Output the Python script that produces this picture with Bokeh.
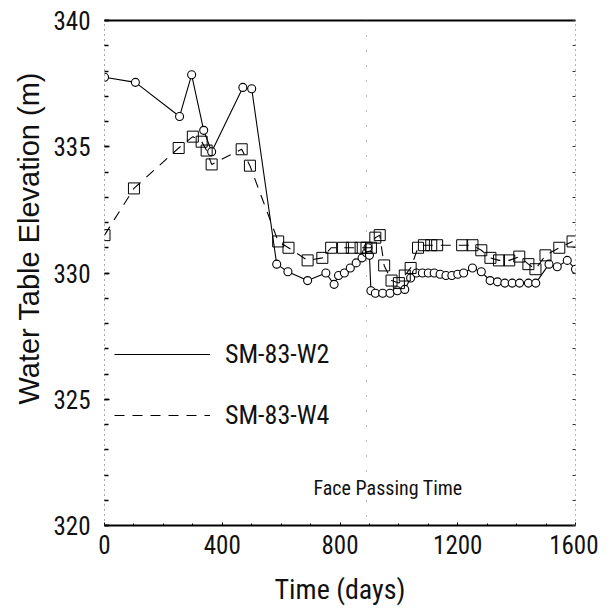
from bokeh.plotting import figure
from bokeh.models import Legend, LegendItem, Label, Span, LinearAxis, FixedTicker, Range1d, Title
from bokeh.embed import file_html
from bokeh.resources import INLINE

# --- data -----------------------------------------------------------------
w2_days = [0, 105, 255, 296, 337, 364, 470, 500, 585, 623, 690, 752, 780, 795,
           815, 835, 855, 875, 890, 895, 900, 905, 920, 945, 970, 995, 1020,
           1040, 1060, 1080, 1100, 1120, 1140, 1160, 1180, 1200, 1220, 1250,
           1280, 1310, 1335, 1360, 1385, 1410, 1440, 1465, 1510, 1538, 1572, 1600]
w2_elev = [337.75, 337.55, 336.2, 337.85, 335.65, 334.8, 337.35, 337.3, 330.35,
           330.05, 329.7, 330.0, 329.55, 329.9, 330.0, 330.2, 330.4, 330.6, 330.8,
           331.0, 330.7, 329.3, 329.2, 329.2, 329.2, 329.3, 329.35, 329.8, 330.0,
           330.0, 330.0, 330.0, 329.95, 329.9, 329.9, 329.95, 330.0, 330.2, 330.05,
           329.7, 329.65, 329.6, 329.6, 329.6, 329.6, 329.6, 330.35, 330.25,
           330.5, 330.15]

w4_days = [0, 100, 252, 300, 330, 347, 364, 466, 494, 590, 625, 690, 740, 770,
           810, 840, 870, 890, 905, 920, 935, 950, 975, 1000, 1020, 1040, 1065,
           1085, 1110, 1130, 1215, 1250, 1280, 1311, 1340, 1375, 1409, 1440, 1464,
           1498, 1545, 1590]
w4_elev = [331.5, 333.35, 334.95, 335.4, 335.2, 334.85, 334.3, 334.9, 334.25,
           331.25, 331.0, 330.5, 330.6, 331.0, 331.0, 331.0, 331.0, 331.0, 331.0,
           331.4, 331.5, 330.3, 329.7, 329.6, 329.9, 330.2, 331.0, 331.1, 331.1,
           331.1, 331.1, 331.1, 330.9, 330.6, 330.5, 330.5, 330.65, 330.35, 330.15,
           330.7, 331.0, 331.25]

x_ticks = [0, 400, 800, 1200, 1600]
y_ticks = [320, 325, 330, 335, 340]
face_day = 890
series_names = ["SM-83-W2", "SM-83-W4"]
face_text = "Face Passing Time"
y_title = "Water Table Elevation (m)"
x_title = "Time (days)"

# --- styling ---------------------------------------------------------------
NARROW = "'Roboto Condensed', 'Liberation Sans Narrow', 'DejaVu Sans Condensed', sans-serif"
REG = "'Liberation Sans', Arial, sans-serif"

p = figure(width=598, height=609, output_backend="svg", toolbar_location=None,
           x_range=Range1d(0, 1600), y_range=Range1d(320, 340),
           min_border_left=104, min_border_top=20, min_border_right=23,
           min_border_bottom=84)
p.outline_line_color = None
p.grid.visible = False
p.background_fill_color = "white"
p.border_fill_color = "white"

# bottom axis
p.xaxis.ticker = FixedTicker(ticks=x_ticks, minor_ticks=list(range(0, 1601, 100)))
p.xaxis.axis_line_color = "black"
p.xaxis.axis_line_width = 1.8
p.xaxis.major_tick_in = 3
p.xaxis.major_tick_out = 0
p.xaxis.minor_tick_in = 2
p.xaxis.minor_tick_out = 0
p.xaxis.major_label_text_font = NARROW
p.xaxis.major_label_text_font_size = "25px"
p.xaxis.major_label_text_color = "#111111"
p.xaxis.major_label_standoff = 9
p.xaxis.axis_label = x_title
p.xaxis.axis_label_text_font = NARROW
p.xaxis.axis_label_text_font_size = "28px"
p.xaxis.axis_label_text_font_style = "normal"
p.xaxis.axis_label_text_color = "#111111"
p.xaxis.axis_label_standoff = 16

# left axis
p.yaxis.ticker = FixedTicker(ticks=y_ticks, minor_ticks=list(range(320, 341, 1)))
p.yaxis.axis_line_color = "#555555"
p.yaxis.axis_line_dash = "1 4"
p.yaxis.axis_line_width = 1
p.yaxis.major_tick_in = 5
p.yaxis.major_tick_out = 0
p.yaxis.minor_tick_in = 4
p.yaxis.minor_tick_out = 0
p.yaxis.major_tick_line_width = 1.5
p.yaxis.minor_tick_line_width = 1.5
p.yaxis.major_label_text_font = NARROW
p.yaxis.major_label_text_font_size = "25px"
p.yaxis.major_label_text_color = "#111111"
p.yaxis.major_label_standoff = 14

# y title: a left-side title shifted up from the bottom of the frame
p.add_layout(Title(text=y_title, align="left", offset=121, standoff=12,
                   text_font=REG, text_font_size="29px", text_font_style="normal",
                   text_color="#111111"), "left")

# top solid border
top = LinearAxis(ticker=FixedTicker(ticks=[]), major_label_text_font_size="0px",
                 axis_line_color="black", axis_line_width=1.8,
                 major_tick_line_color=None, minor_tick_line_color=None)
p.add_layout(top, "above")
# right dotted border
right = LinearAxis(ticker=FixedTicker(ticks=[], minor_ticks=list(range(320, 341, 1))),
                   major_label_text_font_size="0px",
                   axis_line_color="#666666", axis_line_dash="1 4", axis_line_width=1,
                   major_tick_line_color=None, minor_tick_in=3, minor_tick_out=0,
                   minor_tick_line_color="#333333")
p.add_layout(right, "right")

# face passing time dotted line
p.add_layout(Span(location=face_day, dimension="height", line_color="#777777",
                  line_dash="1 14", line_width=1))

# series
l2 = p.line(w2_days, w2_elev, line_color="black", line_width=1.1)
p.scatter(w2_days, w2_elev, marker="circle", size=8, fill_color="white",
          line_color="black", line_width=1.1)
l4 = p.line(w4_days, w4_elev, line_color="black", line_width=1.1, line_dash="10 8")
p.scatter(w4_days, w4_elev, marker="square", size=11, fill_color=None,
          line_color="black", line_width=1)

legend = Legend(items=[LegendItem(label=series_names[0], renderers=[l2]),
                       LegendItem(label=series_names[1], renderers=[l4])],
                location=(10, 95), glyph_width=96, glyph_height=24, label_height=24,
                label_standoff=15, spacing=31,
                label_text_font=NARROW, label_text_font_size="26px",
                label_text_color="#111111",
                border_line_color=None, background_fill_alpha=0)
p.add_layout(legend, "center")

p.add_layout(Label(x=face_day - 180, y=321.5, text=face_text, text_font=NARROW,
                   text_font_size="20px", text_baseline="middle", text_color="#111111"))

open("out.html", "w").write(file_html(p, INLINE))
